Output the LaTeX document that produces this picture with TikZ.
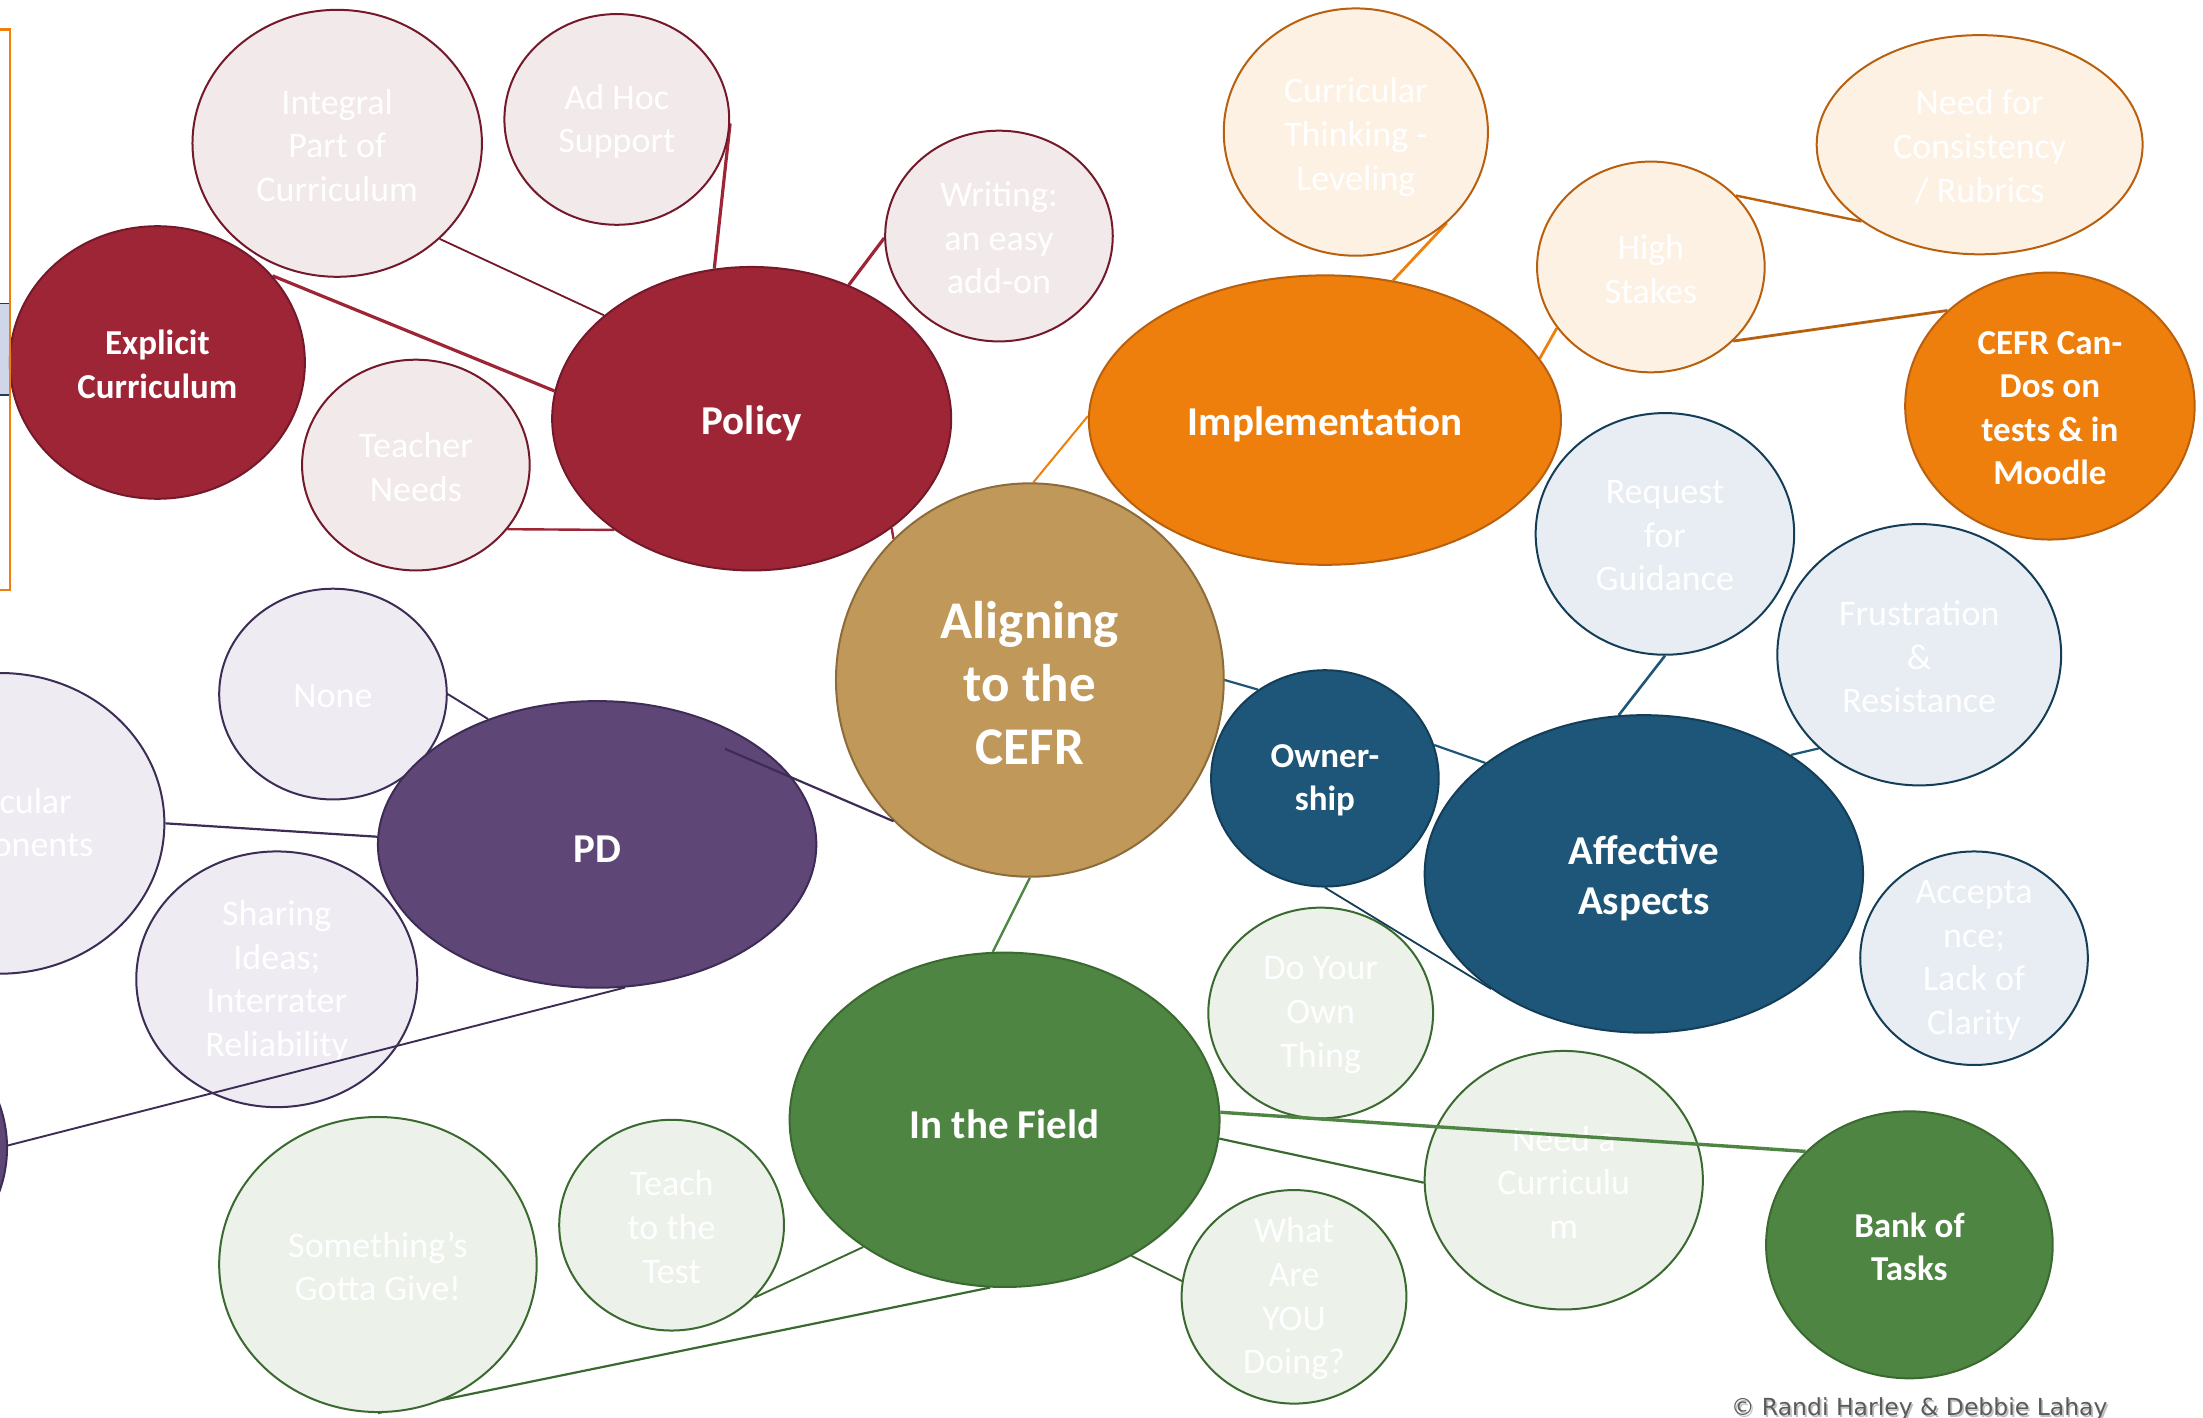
\documentclass[tikz,border=0pt]{standalone}
\usepackage{fontspec}
\setmainfont{Carlito}
\newfontfamily\cprfont{DejaVu Sans}
\usetikzlibrary{shapes.geometric}
\pgfdeclarelayer{bg}
\pgfsetlayers{bg,main}
\definecolor{polR}{HTML}{9E2536}
\definecolor{polRd}{HTML}{74192A}
\definecolor{polL}{HTML}{F2E9EB}
\definecolor{impO}{HTML}{EE7F0C}
\definecolor{impOd}{HTML}{B9600F}
\definecolor{impL}{HTML}{FDF1E4}
\definecolor{alT}{HTML}{C0985A}
\definecolor{alTd}{HTML}{8D6C3C}
\definecolor{affB}{HTML}{1D5679}
\definecolor{affBd}{HTML}{143E58}
\definecolor{affL}{HTML}{E7EDF2}
\definecolor{pdP}{HTML}{5E4777}
\definecolor{pdPd}{HTML}{3D2C55}
\definecolor{pdL}{HTML}{EEEBF2}
\definecolor{fgG}{HTML}{4E8542}
\definecolor{fgGd}{HTML}{3B6A30}
\definecolor{fgL}{HTML}{ECF1EA}
\definecolor{boxB}{HTML}{CFD6EA}
\definecolor{boxBd}{HTML}{1F3864}
\definecolor{cprgray}{HTML}{5A5A5A}
\begin{document}
\begin{tikzpicture}[x=1.405pt,y=-1.405pt,
  bub/.style={ellipse,inner sep=0pt,line width=2pt},
  sz/.style 2 args={minimum width={#1*2.81pt},minimum height={#2*2.81pt}},
  subtxt/.style={text=white,align=center,inner sep=0pt,yshift=-2pt,font=\fontsize{36}{43.6}\selectfont},
  midtxt/.style={text=white,align=center,inner sep=0pt,yshift=-2pt,font=\bfseries\fontsize{35}{43.6}\selectfont},
  bigtxt/.style={text=white,align=center,inner sep=0pt,yshift=-4.5pt,font=\bfseries\fontsize{41}{50.6}\selectfont},
  hubtxt/.style={text=white,align=center,inner sep=0pt,yshift=-3pt,font=\bfseries\fontsize{53}{63}\selectfont},
  polsub/.style={bub,fill=polL,draw=polRd},
  polmain/.style={bub,fill=polR,draw=polRd},
  impsub/.style={bub,fill=impL,draw=impOd},
  impmain/.style={bub,fill=impO,draw=impOd},
  affsub/.style={bub,fill=affL,draw=affBd},
  affmain/.style={bub,fill=affB,draw=affBd},
  pdsub/.style={bub,fill=pdL,draw=pdPd},
  pdmain/.style={bub,fill=pdP,draw=pdPd},
  fgsub/.style={bub,fill=fgL,draw=fgGd},
  fgmain/.style={bub,fill=fgG,draw=fgGd},
  polline/.style={draw=polR,line width=3.2pt},
  pollinethin/.style={draw=polRd,line width=1.8pt},
  impline/.style={draw=impO,line width=2.8pt},
  implinedk/.style={draw=impOd,line width=2.4pt},
  affline/.style={draw=affB,line width=2.2pt},
  pdline/.style={draw=pdPd,line width=1.9pt},
  fgline/.style={draw=fgG,line width=2.4pt},
  fglinedk/.style={draw=fgGd,line width=1.9pt}
]
\useasboundingbox (0,0) rectangle (1567.97,1009.25);
\clip (0,0) rectangle (1567.97,1009.25);
\begin{pgfonlayer}{bg}
\fill[white] (0,0) rectangle (1567.97,1009.25);
\end{pgfonlayer}

% partial shapes at the left edge
\node[draw=boxBd,fill=boxB,line width=1.8pt,rectangle,minimum width=80*1.405pt,minimum height=65*1.405pt,inner sep=0pt] (bluebox) at (-33,248.5) {};

% Policy group
\node[polsub,sz={103}{95},label={[subtxt]center:{Integral\\Part of\\Curriculum}}] (integral) at (240,102) {};
\node[polsub,sz={80}{75},label={[subtxt]center:{Ad Hoc\\Support}}] (adhoc) at (439,85) {};
\node[polsub,sz={81}{75},label={[subtxt]center:{Writing:\\an easy\\add-on}}] (writing) at (711,168) {};
\node[polmain,sz={105}{97},label={[midtxt]center:{Explicit\\Curriculum}}] (explicit) at (112,258) {};
\node[polsub,sz={81}{75},label={[subtxt]center:{Teacher\\Needs}}] (teacher) at (296,331) {};
\node[polmain,sz={142}{108},label={[bigtxt]center:{Policy}}] (policy) at (535,298) {};

% Implementation group
\node[impsub,sz={94}{88},label={[subtxt,yshift=-3pt]center:{Curricular\\Thinking -\\Leveling}}] (curthink) at (965,94) {};
\node[impsub,sz={81}{75},label={[subtxt]center:{High\\Stakes}}] (stakes) at (1175,190) {};
\node[impsub,sz={116}{78},label={[subtxt]center:{Need for\\Consistency\\/ Rubrics}}] (consist) at (1409,103) {};
\node[impmain,sz={168}{103},label={[bigtxt]center:{Implementation}}] (impl) at (943,299) {};
\node[impmain,sz={103}{95},label={[midtxt]center:{CEFR Can-\\Dos on\\tests \& in\\Moodle}}] (cando) at (1459,289) {};

% Affective group
\node[affsub,sz={92}{86},label={[subtxt]center:{Request\\for\\Guidance}}] (request) at (1185,380) {};
\node[affsub,sz={101}{93},label={[subtxt]center:{Frustration\\\&\\Resistance}}] (frust) at (1366,466) {};
\node[affmain,sz={81}{77},label={[midtxt]center:{Owner-\\ship}}] (owner) at (943,554) {};
\node[affmain,sz={156}{113},label={[bigtxt]center:{Affective\\Aspects}}] (affect) at (1170,622) {};
\node[affsub,sz={81}{76},label={[subtxt]center:{Accepta\\nce;\\Lack of\\Clarity}}] (accept) at (1405,682) {};

% Hub
\node[bub,fill=alT,draw=alTd,sz={138}{140},label={[hubtxt]center:{Aligning\\to the\\CEFR}}] (hub) at (733,484) {};

% PD group
\node[pdsub,sz={81}{75},label={[subtxt]center:{None}}] (none) at (237,494) {};
\node[pdsub,sz={117}{107},label={[subtxt]center:{Curricular\\Components}}] (compon) at (0,586) {};
\node[pdsub,sz={100}{91},label={[subtxt]center:{Sharing\\Ideas;\\Interrater\\Reliability}}] (sharing) at (197,697) {};
\node[pdmain,sz={100}{95}] (pdsmall) at (-95,817) {};
\node[pdmain,sz={156}{102},label={[bigtxt]center:{PD}}] (pd) at (425,601) {};

% In the Field group
\node[fgsub,sz={80}{75},label={[subtxt]center:{Do Your\\Own\\Thing}}] (dyot) at (940,721) {};
\node[fgsub,sz={99}{92},label={[subtxt]center:{Need a\\Curriculu\\m}}] (needcur) at (1113,840) {};
\node[fgmain,sz={102}{95},label={[midtxt]center:{Bank of\\Tasks}}] (bank) at (1359,886) {};
\node[fgsub,sz={80}{76},label={[subtxt]center:{What\\Are\\YOU\\Doing?}}] (whatyou) at (921,923) {};
\node[fgsub,sz={80}{75},label={[subtxt]center:{Teach\\to the\\Test}}] (teach) at (478,872) {};
\node[fgsub,sz={113}{105},label={[subtxt]center:{Something’s\\Gotta Give!}}] (gotta) at (269,900) {};
\node[fgmain,sz={153}{119},label={[bigtxt]center:{In the Field}}] (field) at (715,797) {};

% connectors behind the bubbles
\begin{pgfonlayer}{bg}
\draw[polline] (explicit.37) -- (policy.172);
\draw[pollinethin] (integral.-43) -- (policy.145);
\draw[polline] (adhoc.-2) -- (policy.104);
\draw[polline] (writing.181) -- (policy.54);
\draw[polline,line width=2.4pt] (teacher.-35) -- (policy.219);
\draw[polline,line width=2.4pt] (policy.-38) -- (hub.134);
\draw[impline] (curthink.-45) -- (impl.64);
\draw[impline] (stakes.213) -- (impl.16);
\draw[implinedk] (stakes.40) -- (consist.213);
\draw[implinedk,line width=2.8pt] (stakes.-42) -- (cando.137);
\draw[impline,line width=2pt] (hub.89) -- (impl.179);
\draw[affline] (hub.0) -- (owner.127);
\draw[affline] (owner.17) -- (affect.145);
\draw[affline,line width=2.6pt] (affect.99) -- (request.-90);
\draw[affline] (affect.39) -- (frust.223);
\draw[fgline] (hub.-90) -- (field.94);
\draw[fglinedk,line width=2.2pt] (field.-5) -- (needcur.181);
\draw[fglinedk] (field.-47) -- (whatyou.172);
\draw[fglinedk] (field.222) -- (teach.-41);
\draw[fglinedk,line width=2.2pt] (gotta.-90) -- (field.-95);
\draw[pdline] (none.0) -- (pd.131);
\draw[pdline,line width=2.2pt] (compon.0) -- (pd.178);
\end{pgfonlayer}

% connectors over the bubbles
\coordinate (pdinner) at ([shift={(91,-68)}]pd.center);
\draw[pdline,line width=2.2pt] (pdinner) -- (hub.226);
\draw[pdline] (pdsmall.1) -- (pd.-79);
\draw[fgline,line width=3.4pt] (field.2) -- (bank.138);
\draw[draw=affBd,line width=1.8pt] (owner.-90) -- (affect.217);

% orange frame at the left edge
\node[draw=impO,line width=2.6pt,rectangle,minimum width=207*1.405pt,minimum height=399*1.405pt,inner sep=0pt] (orangeframe) at (-96.5,220.5) {};

% copyright
\node[font=\cprfont\fontsize{23.5}{28}\selectfont,text=black!25,anchor=base,inner sep=0pt] (cprshadow) at (1367.2,1008.9) {© Randi Harley \& Debbie Lahay};
\node[font=\cprfont\fontsize{23.5}{28}\selectfont,text=cprgray,anchor=base,inner sep=0pt] (cpr) at (1366,1007.8) {© Randi Harley \& Debbie Lahay};
\end{tikzpicture}
\end{document}
